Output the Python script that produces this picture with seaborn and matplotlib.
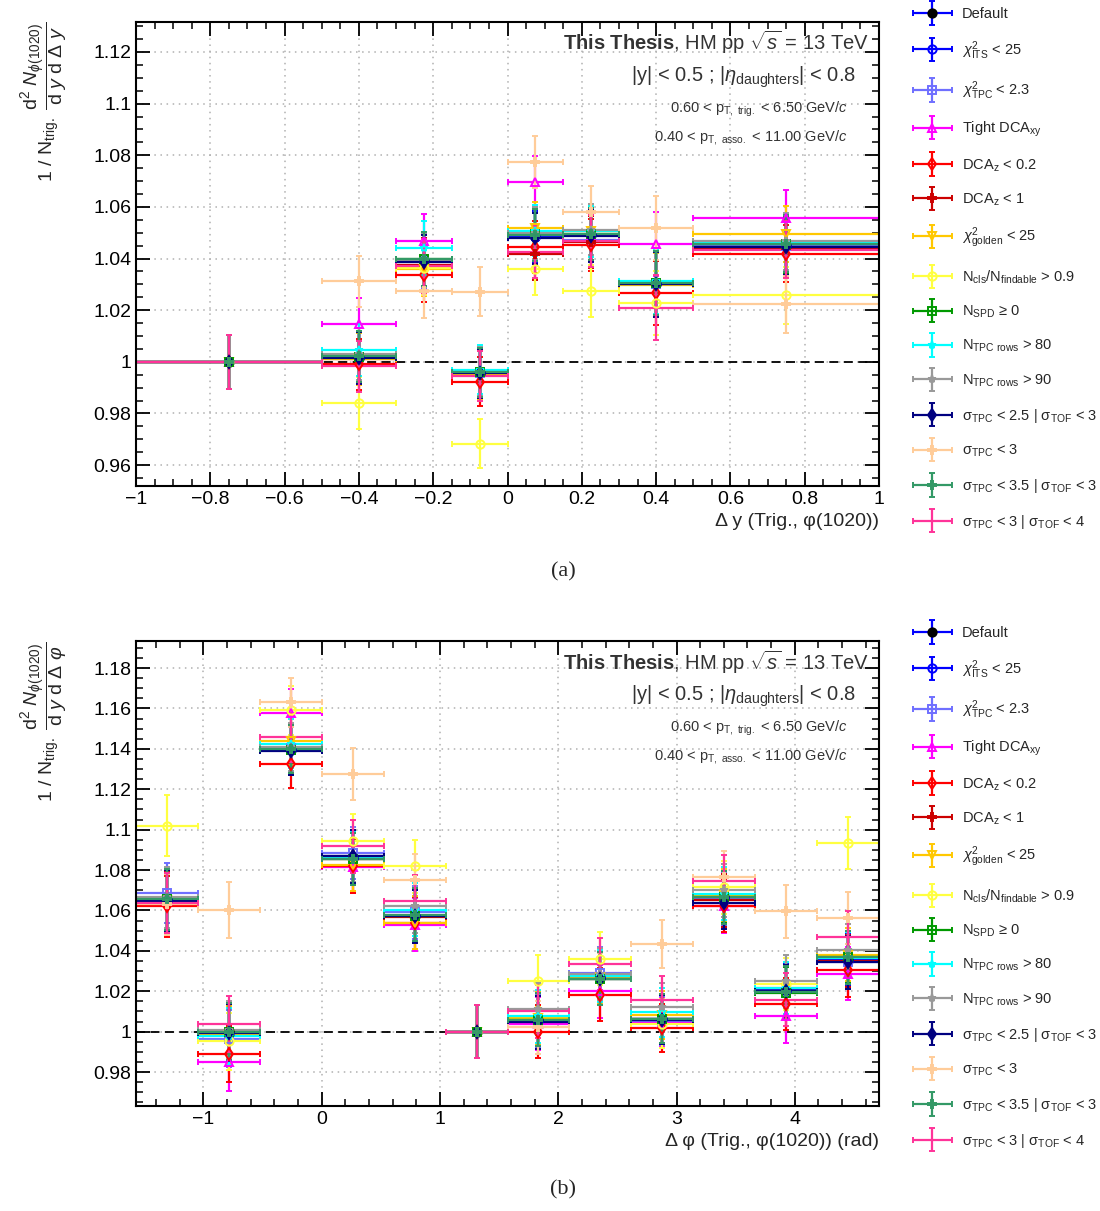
import numpy as np
import pandas as pd
import seaborn as sns
import matplotlib.pyplot as plt
from matplotlib.ticker import MultipleLocator
from matplotlib.container import ErrorbarContainer
from matplotlib.legend_handler import HandlerErrorbar

# bin edges
dy_edges = [-1, -0.5, -0.3, -0.15, 0, 0.15, 0.3, 0.5, 1]
dphi_edges = [k * np.pi / 6 for k in [-3, -2, -1, 0, 1, 2, 3, 4, 5, 6, 7, 8, 9]]

# stat. errors per bin
dy_err = [0.0105, 0.010, 0.0105, 0.0095, 0.010, 0.010, 0.0125, 0.011]
dphi_err = [0.015, 0.014, 0.012, 0.013, 0.013, 0.013, 0.013, 0.013, 0.012, 0.013, 0.013, 0.013]

# Delta y (a)
dy_default = [1.0, 1.0015, 1.0389, 0.9956, 1.0483, 1.0490, 1.0302, 1.0447]
dy_its = [1.0, 1.0015, 1.0389, 0.9956, 1.0483, 1.0490, 1.0302, 1.0447]
dy_tpc = [1.0, 1.0020, 1.0392, 0.9958, 1.0490, 1.0473, 1.0300, 1.0450]
dy_dcaxy = [1.0, 1.0148, 1.0468, 0.9962, 1.0698, 1.0490, 1.0457, 1.0557]
dy_dcaz02 = [1.0, 0.9990, 1.0337, 0.9922, 1.0445, 1.0453, 1.0266, 1.0419]
dy_dcaz1 = [1.0, 1.0010, 1.0375, 0.9950, 1.0417, 1.0465, 1.0300, 1.0440]
dy_golden = [1.0, 1.0010, 1.0359, 0.9948, 1.0518, 1.0505, 1.0298, 1.0495]
dy_ncls = [1.0, 0.9840, 1.0365, 0.9682, 1.0360, 1.0273, 1.0227, 1.0258]
dy_spd = [1.0, 1.0020, 1.0398, 0.9960, 1.0495, 1.0495, 1.0305, 1.0455]
dy_rows80 = [1.0, 1.0045, 1.0441, 0.9969, 1.0508, 1.0505, 1.0311, 1.0462]
dy_rows90 = [1.0, 1.0031, 1.0395, 0.9962, 1.0500, 1.0512, 1.0302, 1.0466]
dy_pid25 = [1.0, 1.0014, 1.0385, 0.9955, 1.0478, 1.0488, 1.0300, 1.0445]
dy_sig3 = [1.0, 1.0311, 1.0276, 1.0271, 1.0774, 1.0580, 1.0519, 1.0222]
dy_pid35 = [1.0, 1.0021, 1.0398, 0.9960, 1.0490, 1.0495, 1.0305, 1.0458]
dy_pid34 = [1.0, 0.9982, 1.0372, 0.9945, 1.0425, 1.0468, 1.0210, 1.0434]

# Delta phi (b)
dphi_default = [1.0653, 1.0002, 1.1393, 1.0860, 1.0575, 1.0, 1.0059, 1.0266, 1.0064, 1.0667, 1.0205, 1.0355]
dphi_its = [1.0650, 0.9990, 1.1395, 1.0862, 1.0575, 1.0, 1.0055, 1.0270, 1.0062, 1.0660, 1.0200, 1.0350]
dphi_tpc = [1.0687, 0.9965, 1.1405, 1.0884, 1.0590, 1.0, 1.0050, 1.0290, 1.0055, 1.0655, 1.0195, 1.0345]
dphi_dcaxy = [1.0645, 0.9848, 1.1578, 1.0815, 1.0530, 1.0, 1.0040, 1.0200, 1.0045, 1.0620, 1.0076, 1.0287]
dphi_dcaz02 = [1.0620, 0.9890, 1.1325, 1.0818, 1.0538, 1.0, 1.0000, 1.0183, 1.0018, 1.0624, 1.0137, 1.0304]
dphi_dcaz1 = [1.0640, 0.9990, 1.1400, 1.0855, 1.0570, 1.0, 1.0060, 1.0265, 1.0065, 1.0650, 1.0200, 1.0350]
dphi_golden = [1.0650, 0.9985, 1.1441, 1.0827, 1.0540, 1.0, 1.0070, 1.0270, 1.0082, 1.0675, 1.0215, 1.0381]
dphi_ncls = [1.1020, 0.9952, 1.1590, 1.0946, 1.0818, 1.0, 1.0252, 1.0361, 1.0040, 1.0714, 1.0236, 1.0934]
dphi_spd = [1.0655, 1.0000, 1.1395, 1.0855, 1.0575, 1.0, 1.0059, 1.0262, 1.0064, 1.0667, 1.0191, 1.0370]
dphi_rows80 = [1.0660, 0.9977, 1.1426, 1.0865, 1.0604, 1.0, 1.0076, 1.0275, 1.0096, 1.0683, 1.0216, 1.0365]
dphi_rows90 = [1.0665, 1.0010, 1.1410, 1.0870, 1.0620, 1.0, 1.0112, 1.0285, 1.0120, 1.0700, 1.0249, 1.0403]
dphi_pid25 = [1.0648, 0.9995, 1.1390, 1.0868, 1.0571, 1.0, 1.0046, 1.0260, 1.0060, 1.0637, 1.0200, 1.0343]
dphi_sig3 = [1.0630, 1.0602, 1.1630, 1.1276, 1.0752, 1.0, 1.0021, 1.0260, 1.0434, 1.0764, 1.0596, 1.0563]
dphi_pid35 = [1.0655, 1.0000, 1.1400, 1.0855, 1.0580, 1.0, 1.0060, 1.0262, 1.0064, 1.0665, 1.0195, 1.0368]
dphi_pid34 = [1.0637, 1.0038, 1.1457, 1.0917, 1.0645, 1.0, 1.0101, 1.0335, 1.0157, 1.0744, 1.0158, 1.0469]

labels = [
    'Default',
    r'$\chi^{2}_{\mathrm{ITS}}$ < 25',
    r'$\chi^{2}_{\mathrm{TPC}}$ < 2.3',
    r'Tight DCA$_{\mathrm{xy}}$',
    r'DCA$_{\mathrm{z}}$ < 0.2',
    r'DCA$_{\mathrm{z}}$ < 1',
    r'$\chi^{2}_{\mathrm{golden}}$ < 25',
    r'N$_{\mathrm{cls}}$/N$_{\mathrm{findable}}$ > 0.9',
    r'N$_{\mathrm{SPD}}$ ≥ 0',
    r'N$_{\mathrm{TPC\ rows}}$ > 80',
    r'N$_{\mathrm{TPC\ rows}}$ > 90',
    r'σ$_{\mathrm{TPC}}$ < 2.5 | σ$_{\mathrm{TOF}}$ < 3',
    r'σ$_{\mathrm{TPC}}$ < 3',
    r'σ$_{\mathrm{TPC}}$ < 3.5 | σ$_{\mathrm{TOF}}$ < 3',
    r'σ$_{\mathrm{TPC}}$ < 3 | σ$_{\mathrm{TOF}}$ < 4',
]
dy_series = [dy_default, dy_its, dy_tpc, dy_dcaxy, dy_dcaz02, dy_dcaz1, dy_golden, dy_ncls,
             dy_spd, dy_rows80, dy_rows90, dy_pid25, dy_sig3, dy_pid35, dy_pid34]
dphi_series = [dphi_default, dphi_its, dphi_tpc, dphi_dcaxy, dphi_dcaz02, dphi_dcaz1, dphi_golden, dphi_ncls,
               dphi_spd, dphi_rows80, dphi_rows90, dphi_pid25, dphi_sig3, dphi_pid35, dphi_pid34]

# (line colour, marker, marker face, marker edge)
styles = [
    ('#0000ff', 'o', 'black', 'black'),
    ('#0000ff', 'o', 'none', '#0000ff'),
    ('#6f6fff', 's', 'none', '#6f6fff'),
    ('#ff00ff', '^', 'none', '#ff00ff'),
    ('#ff0000', 'd', 'none', '#ff0000'),
    ('#cc0000', 'P', 'none', '#cc0000'),
    ('#ffc800', 'v', 'none', '#ffc800'),
    ('#ffff40', 'o', 'none', '#ffff40'),
    ('#009900', 's', 'none', '#009900'),
    ('#00ffff', '*', 'none', '#00ffff'),
    ('#999999', '*', '#999999', '#999999'),
    ('#000080', 'd', '#000080', '#000080'),
    ('#ffcc99', 'P', '#ffcc99', '#ffcc99'),
    ('#339966', 'P', 'none', '#339966'),
    ('#ff3399', 'none', 'none', '#ff3399'),
]

sns.set_theme(style='ticks')
plt.rcParams['font.family'] = ['Liberation Sans', 'DejaVu Sans']
plt.rcParams['mathtext.fontset'] = 'custom'
plt.rcParams['mathtext.rm'] = 'Liberation Sans'
plt.rcParams['mathtext.it'] = 'Liberation Sans:italic'
plt.rcParams['mathtext.bf'] = 'Liberation Sans:bold'
plt.rcParams['mathtext.sf'] = 'Liberation Sans'


def to_long(edges, series, errs):
    rows = []
    e = np.asarray(edges)
    for i, vals in enumerate(series):
        for j, v in enumerate(vals):
            rows.append({'s': i, 'x': (e[j] + e[j + 1]) / 2, 'xw': (e[j + 1] - e[j]) / 2,
                         'y': v, 'ye': errs[j]})
    return pd.DataFrame(rows)


def draw_panel(ax, df, xlim, ylim, xmaj, xmin, xlabel, ylabel, ylab_y, leg_top):
    handles = []
    for i, grp in df.groupby('s'):
        lc, mk, mf, me = styles[i]
        h = ax.errorbar(grp['x'], grp['y'], xerr=grp['xw'], yerr=grp['ye'], fmt=mk, color=lc,
                        mfc=mf, mec=me, ms=6, mew=1.4, elinewidth=1.6, capsize=2, capthick=1.4,
                        ecolor=lc, label=labels[i])
        handles.append(h)
    ax.axhline(1, color='black', ls=(0, (5, 3)), lw=1.3, zorder=1.5)
    ax.set_xlim(*xlim)
    ax.set_ylim(*ylim)
    ax.xaxis.set_major_locator(MultipleLocator(xmaj))
    ax.xaxis.set_minor_locator(MultipleLocator(xmin))
    ax.yaxis.set_major_locator(MultipleLocator(0.02))
    ax.yaxis.set_minor_locator(MultipleLocator(0.005))
    ax.yaxis.set_major_formatter(plt.FuncFormatter(lambda v, p: f'{v:.2f}'.rstrip('0').rstrip('.')))
    ax.xaxis.set_major_formatter(plt.FuncFormatter(
        lambda v, p: (f'{v:.1f}'.rstrip('0').rstrip('.')).replace('-', '\u2212') if abs(v) > 1e-9 else '0'))
    ax.tick_params(which='both', direction='in', top=True, right=True, labelsize=14, colors='black')
    ax.tick_params(which='major', length=10, width=1.3)
    ax.tick_params(which='minor', length=5, width=1.1)
    for s in ax.spines.values():
        s.set_linewidth(1.5)
        s.set_color('black')
    ax.grid(True, which='major', ls=(0, (1, 3)), color='#b0b0b0', lw=1.1)
    ax.set_axisbelow(True)
    ax.set_xlabel(xlabel, loc='right', fontsize=14, labelpad=4)
    fig.text(45 / 1100, ylab_y, ylabel, rotation=90, ha='center', va='center', fontsize=14)

    tc = '#333333'
    ax.text(0.987, 0.955, r'$\mathbf{This\ Thesis}$, HM pp $\sqrt{s}$ = 13 TeV', transform=ax.transAxes,
            ha='right', va='center', fontsize=14.5, color=tc)
    ax.text(0.969, 0.882, r'|y| < 0.5 ; |$\eta_{\mathrm{daughters}}$| < 0.8', transform=ax.transAxes,
            ha='right', va='center', fontsize=14.5, color=tc)
    ax.text(0.958, 0.812, r'0.60 < p$_{\mathrm{T,\ trig.}}$ < 6.50 GeV/$c$', transform=ax.transAxes,
            ha='right', va='center', fontsize=10.5, color=tc)
    ax.text(0.958, 0.752, r'0.40 < p$_{\mathrm{T,\ asso.}}$ < 11.00 GeV/$c$', transform=ax.transAxes,
            ha='right', va='center', fontsize=10.5, color=tc)

    fig.legend(handles=handles, labels=labels, loc='upper left', bbox_to_anchor=(912 / 1100, leg_top),
               frameon=False, fontsize=10.5, handlelength=2.8, handletextpad=0.6, labelspacing=1.23,
               borderaxespad=0, borderpad=0,
               handler_map={ErrorbarContainer: HandlerErrorbar(xerr_size=1.35, yerr_size=0.8)})


fig = plt.figure(figsize=(11, 12.11), dpi=100)
ax1 = fig.add_axes([136 / 1100, 1 - 486 / 1211, 743 / 1100, 464 / 1211])
ax2 = fig.add_axes([136 / 1100, 1 - 1106 / 1211, 743 / 1100, 465 / 1211])

draw_panel(ax1, to_long(dy_edges, dy_series, dy_err), (-1, 1), (0.9519, 1.1316), 0.2, 0.05,
           'Δ y (Trig., φ(1020))',
           r'1 / N$_{\mathrm{trig.}}$ $\dfrac{\mathrm{d}^{2}\ N_{\phi(1020)}}{\mathrm{d}\ y\ \mathrm{d}\ \Delta\ y}$',
           1 - 102 / 1211, 1 - 7 / 1211)
draw_panel(ax2, to_long(dphi_edges, dphi_series, dphi_err), (-np.pi / 2, 3 * np.pi / 2), (0.9632, 1.1934),
           1, 0.2, 'Δ φ (Trig., φ(1020)) (rad)',
           r'1 / N$_{\mathrm{trig.}}$ $\dfrac{\mathrm{d}^{2}\ N_{\phi(1020)}}{\mathrm{d}\ y\ \mathrm{d}\ \Delta\ \varphi}$',
           1 - 722 / 1211, 1 - 626 / 1211)

fig.text(563 / 1100, 1 - 572 / 1211, '(a)', family='Liberation Serif', fontsize=16, ha='center', va='center')
fig.text(563 / 1100, 1 - 1190 / 1211, '(b)', family='Liberation Serif', fontsize=16, ha='center', va='center')

fig.savefig('out.png', dpi=100)
